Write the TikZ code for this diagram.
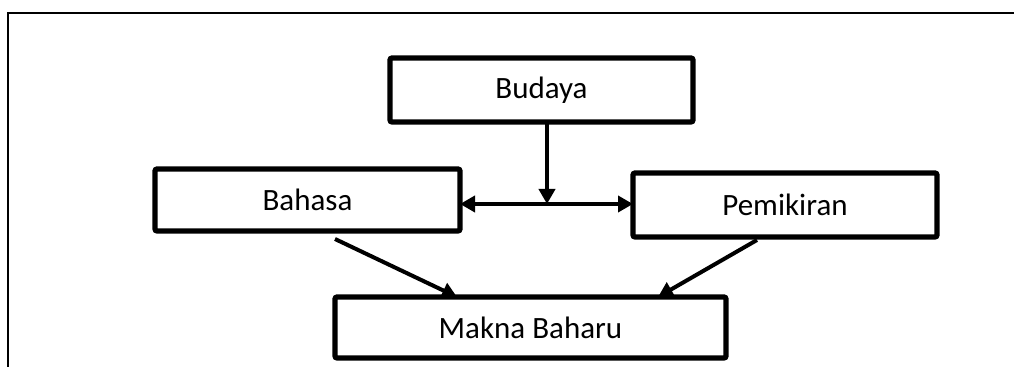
\documentclass[tikz,border=0pt]{standalone}
\usepackage{fontspec}
\setmainfont{Carlito}
\usetikzlibrary{arrows.meta}
\begin{document}
\begin{tikzpicture}[x=0.5pt,y=-0.5pt,
  box/.style={draw, line width=2.6pt, rounded corners=1pt, inner sep=0pt, outer sep=0pt,
    font=\fontsize{15.5pt}{18pt}\selectfont, align=center},
  conn/.style={line width=2pt, -{Triangle[length=7.5pt,width=8pt]}},
  frame/.style={line width=1.1pt}]
\useasboundingbox (0,0) rectangle (1014,367);
\draw[frame] (8,367) -- (8,13) -- (1014,13);
\node[box, minimum width=151.5pt, minimum height=32pt] (budaya) at (541.5,90) {Budaya};
\node[box, minimum width=152.5pt, minimum height=31pt] (bahasa) at (307.5,200) {Bahasa};
\node[box, minimum width=152pt, minimum height=32pt] (pemikiran) at (785,205) {Pemikiran};
\node[box, minimum width=195.5pt, minimum height=30.5pt] (makna) at (530.5,327.5) {Makna Baharu};
\coordinate (mid) at (547,204);
\draw[conn] (budaya.south -| mid) -- (mid);
\draw[conn, {Triangle[length=7.5pt,width=8pt]}-{Triangle[length=7.5pt,width=8pt]}] (bahasa.east |- mid) -- (pemikiran.west |- mid);
\coordinate (bl) at (335,239);
\coordinate (br) at (757,240);
\draw[conn] (bl) -- (makna.north -| 457,0);
\draw[conn] (br) -- (makna.north -| 658,0);
\end{tikzpicture}
\end{document}
